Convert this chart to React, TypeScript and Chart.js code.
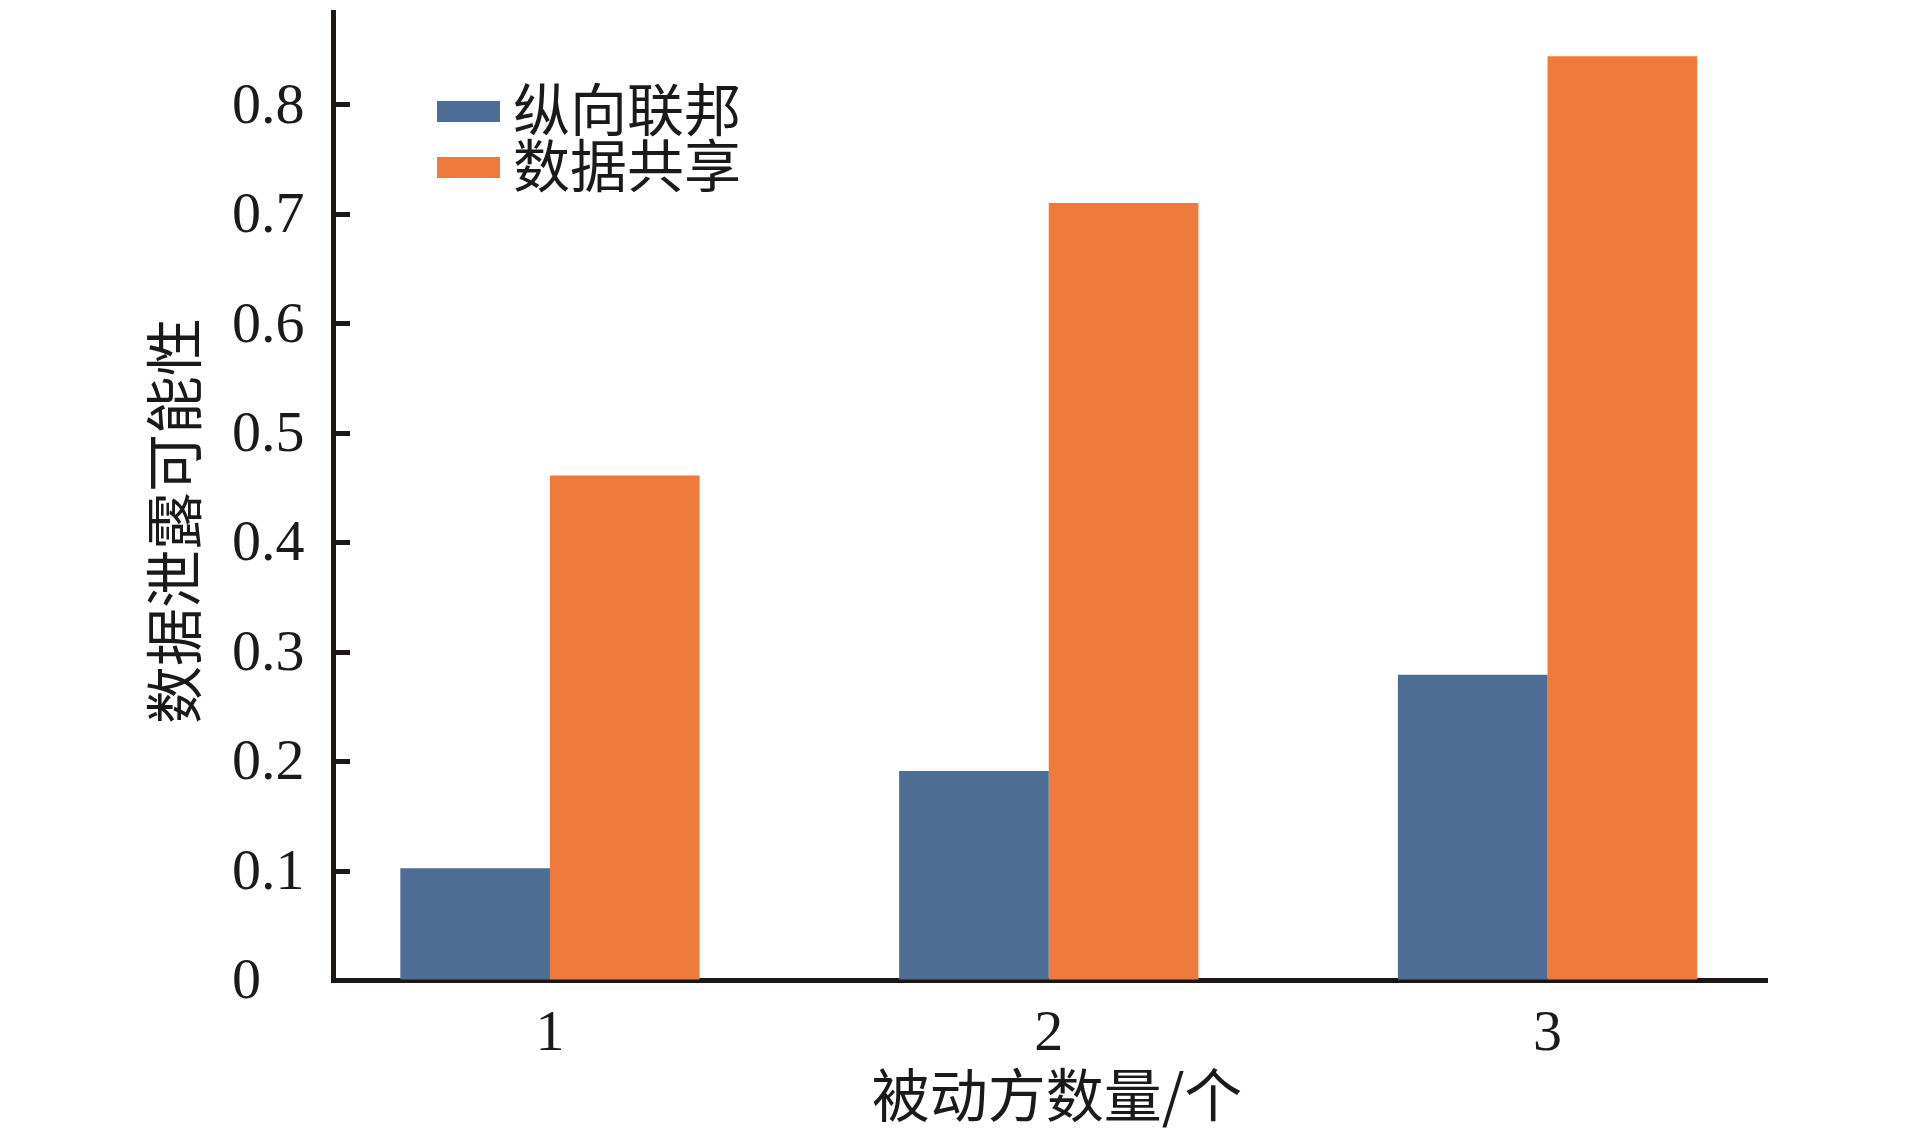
import React, { useEffect, useRef } from 'react';
import { Chart, registerables } from 'chart.js';

Chart.register(...registerables);

// Number of passive parties (x categories)
const categories = ['1', '2', '3'];
// Leak probability per series
const verticalFederated = [0.102, 0.191, 0.279];
const dataSharing = [0.461, 0.71, 0.844];
const seriesNames = ['纵向联邦', '数据共享'];
const seriesColors = ['#4e6d94', '#ee7a3b'];

const yTickValues = [0, 0.1, 0.2, 0.3, 0.4, 0.5, 0.6, 0.7, 0.8];
const yTickLabels = ['0', '0.1', '0.2', '0.3', '0.4', '0.5', '0.6', '0.7', '0.8'];

const xTitle = '被动方数量/个';
const yTitle = '数据泄露可能性';

const AXIS_COLOR = '#1c1614';
const TEXT_COLOR = '#1a1a1a';
const NUM_FONT = "'Liberation Serif', 'DejaVu Serif', serif";
const CJK_FONT = "'Noto Sans CJK SC', 'Noto Sans', sans-serif";

const W = 1913;
const H = 1134;

// Inward tick marks, in-plot legend and axis titles
const decorations = {
  id: 'decorations',
  afterDraw(chart: any) {
    const { ctx, chartArea, scales } = chart;
    const y = scales.y;
    ctx.save();

    ctx.strokeStyle = AXIS_COLOR;
    ctx.lineWidth = 5;
    ctx.lineCap = 'butt';
    y.ticks.forEach((t: any) => {
      if (t.value === 0) return;
      const py = Math.round(y.getPixelForValue(t.value)) + 0.5;
      ctx.beginPath();
      ctx.moveTo(chartArea.left, py);
      ctx.lineTo(chartArea.left + 17, py);
      ctx.stroke();
    });

    // legend
    const lx = chartArea.left + 104;
    const ly = chartArea.top + 89;
    chart.data.datasets.forEach((ds: any, i: number) => {
      const top = ly + i * 56;
      ctx.fillStyle = ds.backgroundColor;
      ctx.fillRect(lx, top, 63, 21);
      ctx.fillStyle = TEXT_COLOR;
      ctx.font = `57px ${CJK_FONT}`;
      ctx.textAlign = 'left';
      ctx.textBaseline = 'middle';
      ctx.fillText(ds.label, lx + 76, top + 8);
    });

    // axis titles
    ctx.fillStyle = TEXT_COLOR;
    ctx.font = `58px ${CJK_FONT}`;
    ctx.textAlign = 'center';
    ctx.textBaseline = 'middle';
    ctx.fillText(xTitle, (chartArea.left + chartArea.right) / 2 + 7, chartArea.bottom + 115);

    ctx.translate(174, (chartArea.top + chartArea.bottom) / 2 + 25);
    ctx.rotate(-Math.PI / 2);
    ctx.fillText(yTitle, 0, 0);

    ctx.restore();
  },
};

export default function App() {
  const canvasRef = useRef<HTMLCanvasElement | null>(null);

  useEffect(() => {
    const canvas = canvasRef.current;
    if (!canvas) return;

    const toPoints = (arr: number[]) => arr.map((v, i) => ({ x: i + 1, y: v }));

    const chart = new Chart(canvas, {
      type: 'bar',
      data: {
        datasets: [
          {
            label: seriesNames[0],
            data: toPoints(verticalFederated),
            backgroundColor: seriesColors[0],
            borderWidth: 0,
          },
          {
            label: seriesNames[1],
            data: toPoints(dataSharing),
            backgroundColor: seriesColors[1],
            borderWidth: 0,
          },
        ],
      },
      options: {
        responsive: false,
        animation: false,
        devicePixelRatio: 1,
        categoryPercentage: 0.6,
        barPercentage: 1.0,
        layout: { padding: { left: 232, top: 12, right: W - 1767, bottom: 0 } },
        plugins: {
          legend: { display: false },
          tooltip: { enabled: false },
        },
        scales: {
          x: {
            type: 'linear',
            offset: false,
            min: 0.565,
            max: 3.44,
            grid: { display: true, drawOnChartArea: false, drawTicks: false, offset: false },
            border: { display: true, width: 5, color: AXIS_COLOR },
            afterBuildTicks: (scale: any) => {
              scale.ticks = categories.map((_, i) => ({ value: i + 1 }));
            },
            afterFit: (scale: any) => {
              scale.height = H - 980;
              scale.paddingLeft = 0;
              scale.paddingRight = 0;
            },
            ticks: {
              color: TEXT_COLOR,
              padding: 20,
              maxRotation: 0,
              autoSkip: false,
              font: { family: NUM_FONT, size: 58 },
              callback: (v: any) => categories[Math.round(Number(v)) - 1] ?? '',
            },
          },
          y: {
            type: 'linear',
            min: 0,
            max: 0.8845,
            grid: { display: true, drawOnChartArea: false, drawTicks: false },
            border: { display: true, width: 5, color: AXIS_COLOR },
            afterBuildTicks: (scale: any) => {
              scale.ticks = yTickValues.map((v) => ({ value: v }));
            },
            afterFit: (scale: any) => {
              scale.width = 333 - 232;
              scale.paddingTop = 0;
              scale.paddingBottom = 0;
            },
            ticks: {
              color: TEXT_COLOR,
              crossAlign: 'far',
              padding: 20,
              labelOffset: 3,
              font: { family: NUM_FONT, size: 58 },
              callback: (v: any) => {
                const idx = yTickValues.findIndex((t) => Math.abs(t - Number(v)) < 1e-6);
                return idx >= 0 ? yTickLabels[idx] : '';
              },
            },
          },
        },
      } as any,
      plugins: [decorations],
    });

    return () => chart.destroy();
  }, []);

  return (
    <div style={{ position: 'fixed', left: 0, top: 0, width: W, height: H, background: '#fff' }}>
      <canvas ref={canvasRef} width={W} height={H} style={{ display: 'block' }} />
    </div>
  );
}
